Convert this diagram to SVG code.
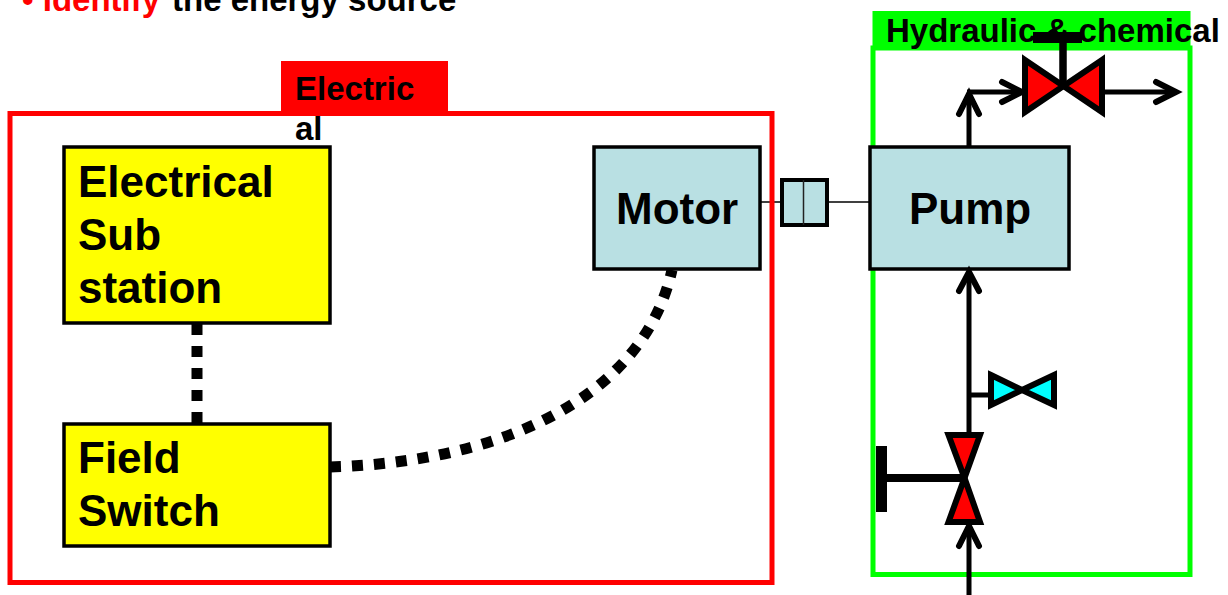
<svg xmlns="http://www.w3.org/2000/svg" width="1228" height="595" viewBox="0 0 1228 595">
<style>
text{font-family:"Liberation Sans",Arial,sans-serif;font-weight:bold;fill:#000}
.big{font-size:44px}
.box{stroke:#000;stroke-width:3.5}
.y{fill:#ff0}
.b{fill:#b9e0e3}
.pipe{fill:none;stroke:#000;stroke-width:5;stroke-linecap:butt}
.head{fill:none;stroke:#000;stroke-width:6;stroke-linecap:round;stroke-linejoin:miter}
.frame{fill:none;stroke-width:5}
.valve{stroke:#000;stroke-width:6;stroke-linejoin:miter;stroke-miterlimit:10}
.dot{fill:none;stroke:#000;stroke-width:11;stroke-dasharray:11 11}
</style>
<rect width="1228" height="595" fill="#fff"/>
<text id="heading" x="22" y="11" font-size="33"><tspan style="fill:#f00">• Identify</tspan><tspan x="172">the energy source</tspan></text>

<g id="connectors-back">
<path d="M760 202H870" stroke="#000" stroke-width="1.5" fill="none"/>
</g>

<g id="electrical-group">
<rect class="frame" x="10" y="113.5" width="762" height="469" stroke="#f00"/>
<rect x="281" y="61" width="167" height="55" fill="#f00"/>
<text x="295" y="100" font-size="33">Electric</text>
<text x="295" y="140" font-size="33">al</text>
</g>

<g id="hydraulic-group">
<rect class="frame" x="873" y="48" width="317" height="526.5" stroke="#0f0"/>
<rect x="872.500" y="11" width="318" height="39" fill="#0f0"/>
<text x="886" y="42" font-size="33">Hydraulic &amp; chemical</text>
</g>

<g id="substation"><rect class="box y" x="64" y="147" width="266" height="176"/>
<text class="big" x="78" y="197">Electrical</text><text class="big" x="78" y="250">Sub</text><text class="big" x="78" y="303">station</text></g>
<g id="field-switch"><rect class="box y" x="64" y="424" width="266" height="122"/>
<text class="big" x="78" y="473">Field</text><text class="big" x="78" y="526">Switch</text></g>
<g id="motor"><rect class="box b" x="594" y="147" width="166" height="122"/>
<text class="big" x="616" y="224">Motor</text></g>
<g id="pump"><rect class="box b" x="870" y="147" width="199" height="122"/>
<text class="big" x="909" y="224">Pump</text></g>
<g id="coupling"><rect class="b" x="782" y="180" width="45" height="45" stroke="#000" stroke-width="4"/>
<path d="M803.500 180V225" stroke="#222" stroke-width="1.500"/></g>

<g id="connectors">
<path class="dot" d="M197 324V424"/>
<path class="dot" d="M330 467C480 463 640 410 672 270"/>
<path class="pipe" d="M969 147V93M967 92H1022M1105 92H1176"/>
<path class="head" d="M959 114L969 94L979 114M1002 82L1022 92L1002 102M1156 82L1176 92L1156 102"/>
<path class="pipe" d="M969 595V526M969 432V272M969 395H990"/>
<path class="head" d="M959 546L969 526L979 546M959 291L969 272L979 291"/>
</g>

<g id="valve-top">
<polygon class="valve" fill="#f00" points="1025,60 1063.500,86 1025,112"/>
<polygon class="valve" fill="#f00" points="1102,60 1063.500,86 1102,112"/>
<path d="M1063 37V86" stroke="#000" stroke-width="7.500"/>
<rect x="1033" y="32" width="49" height="11"/>
</g>
<g id="valve-bottom">
<polygon class="valve" fill="#f00" points="948.500,435 964.500,478 980,435"/>
<polygon class="valve" fill="#f00" points="948.500,522 964.500,478 980,522"/>
<path d="M880 478H964" stroke="#000" stroke-width="8"/>
<rect x="876" y="446" width="11" height="66"/>
</g>
<g id="valve-cyan">
<polygon class="valve" fill="#0ff" points="991,375 1022,390 991,405"/>
<polygon class="valve" fill="#0ff" points="1054,375 1022,390 1054,405"/>
</g>
</svg>
